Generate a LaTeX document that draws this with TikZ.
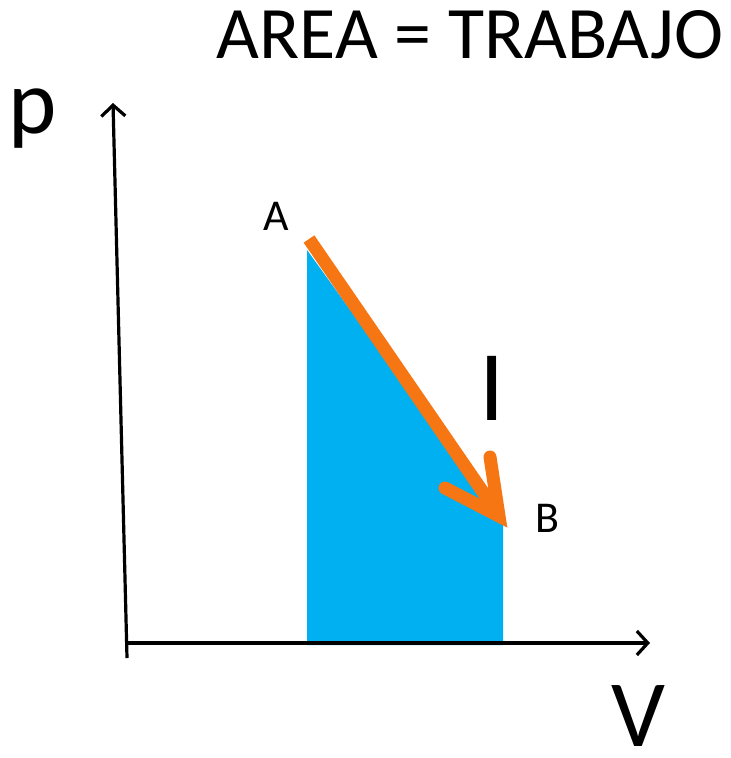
\documentclass[tikz,border=0pt]{standalone}
\usepackage{fontspec}
\setmainfont{Carlito}
\usetikzlibrary{arrows.meta}
\definecolor{areablue}{RGB}{0,176,240}
\definecolor{pathorange}{RGB}{247,118,20}
\tikzset{
  axis/.style={line width=3.2pt, -{Straight Barb[length=11pt,width=24pt,line width=3.2pt]}},
  lbl/.style={inner sep=0pt, anchor=base},
  proc/.style={pathorange, line width=13pt},
}
\begin{document}
\begin{tikzpicture}[x=1pt,y=-1pt]
\useasboundingbox (0,0) rectangle (731,758);
% area
\fill[areablue] (307,645) -- (307,250) -- (503,522) -- (503,645) -- cycle;
% axes
\coordinate (o1) at (127,658);
\coordinate (ytip) at (113,103);
\coordinate (o2) at (125,643);
\coordinate (xtip) at (650,643);
\draw[axis] (o1) -- (ytip);
\draw[axis] (o2) -- (xtip);
% process arrow
\coordinate (A0) at (309,239);
\coordinate (B0) at (498,514);
\coordinate (tip) at (499,516);
\coordinate (arm1) at (445,488);
\coordinate (arm2) at (490,457);
\draw[proc, line cap=butt] (A0) -- (B0);
\draw[proc, line cap=round, line join=miter] (arm1) -- (tip) -- (arm2);
% labels
\node[lbl] (title) at (470,58) {\fontsize{74}{74}\selectfont AREA = TRABAJO};
\node[lbl] (p) at (33,133) {\fontsize{92}{92}\selectfont p};
\node[lbl] (V) at (638,746) {\fontsize{95}{95}\selectfont V};
\node[lbl] (A) at (276,230) {\fontsize{44}{44}\selectfont A};
\node[lbl] (B) at (547,532) {\fontsize{44}{44}\selectfont B};
\node[lbl] (I) at (492,420) {\fontsize{100}{100}\selectfont I};
\end{tikzpicture}
\end{document}
